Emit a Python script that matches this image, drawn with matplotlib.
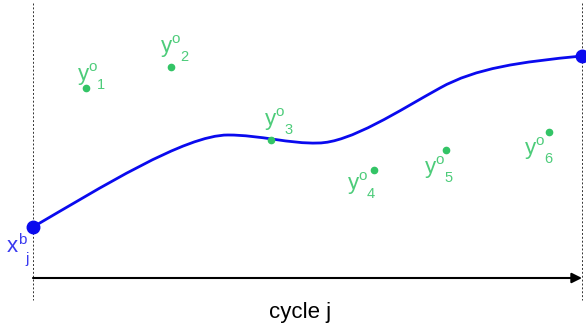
import matplotlib.pyplot as plt
from matplotlib.path import Path
from matplotlib.patches import PathPatch

plt.rcParams['font.family'] = ['Liberation Sans', 'DejaVu Sans']

# background trajectory: bezier nodes and control points (pixel coords)
curve_pts = [(33, 227), (100, 188), (185, 135), (228, 135),
             (260, 135), (290, 144), (318, 143),
             (350, 143), (400, 110), (440, 88),
             (476, 68), (520, 62), (582, 56)]

# observations
obs_x = [86, 171, 271, 374, 446, 549]
obs_y = [88, 67, 140, 170, 150, 132]
obs_idx = ["1", "2", "3", "4", "5", "6"]
# label anchor (left, baseline of "y") for each obs
lab_x = [78, 161, 265, 348, 425, 525]
lab_y = [80, 52, 125, 189, 173, 154]

end_x = [33, 582]
end_y = [227, 56]

fig = plt.figure(figsize=(5.86, 3.25), dpi=100)
ax = fig.add_axes([0, 0, 1, 1])
ax.set_xlim(0, 586)
ax.set_ylim(325, 0)
ax.axis('off')

codes = [Path.MOVETO] + [Path.CURVE4] * (len(curve_pts) - 1)
ax.add_patch(PathPatch(Path(curve_pts, codes), fc='none', ec='#0a0aee', lw=2.0))

ax.plot(end_x, end_y, 'o', color='#0a0aee', ms=9, zorder=5)
ax.plot(obs_x, obs_y, 'o', color='#33c466', ms=4.5, zorder=5)

green = '#4dcc7a'
for lx, ly, k in zip(lab_x, lab_y, obs_idx):
    ax.text(lx, ly, "y", color=green, fontsize=16, va='baseline')
    ax.text(lx + 10, ly - 9, "o", color=green, fontsize=11, va='baseline')
    ax.text(lx + 19, ly + 9, k, color=green, fontsize=10.5, va='baseline')

blue = '#3a3af0'
ax.text(7, 252, "x", color=blue, fontsize=16, va='baseline')
ax.text(18, 244, "b", color=blue, fontsize=11, va='baseline')
ax.text(25, 263, "j", color=blue, fontsize=11, va='baseline')

for vx in end_x:
    ax.plot([vx, vx], [3, 300], color='#333333', lw=0.7, ls=(0, (2, 2)))

ax.annotate("", xy=(582, 278), xytext=(33, 278),
            arrowprops=dict(arrowstyle='-|>', color='black', lw=1.5,
                            mutation_scale=15, shrinkA=0, shrinkB=0))

ax.text(300, 318, "cycle j", fontsize=16, ha='center', va='baseline')

fig.savefig("out.png", dpi=100)
